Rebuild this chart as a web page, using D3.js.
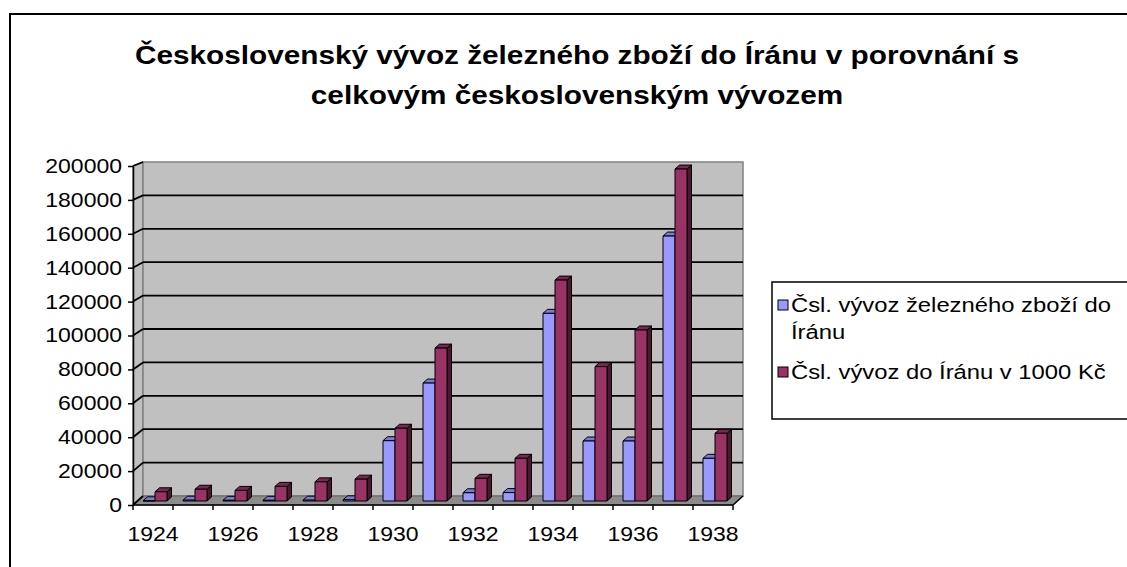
<!DOCTYPE html>
<html>
<head>
<meta charset="utf-8">
<script src="https://cdn.jsdelivr.net/npm/d3@7"></script>
<style>
  body { margin: 0; background: #fff; }
  svg { display: block; }
  text { font-family: "Liberation Sans", Arial, sans-serif; fill: #000; }
</style>
</head>
<body>
<svg id="chart" width="1127" height="567"></svg>
<script>
// data
var years = [1924, 1925, 1926, 1927, 1928, 1929, 1930, 1931, 1932, 1933, 1934, 1935, 1936, 1937, 1938];
var ironExports = [100, 500, 400, 400, 500, 700, 35900, 70200, 4900, 5000, 111700, 35700, 35700, 157700, 25400];
var totalExports = [5500, 7000, 6300, 8700, 11400, 13000, 43300, 91000, 13500, 25400, 131500, 80000, 101800, 197600, 40300];
var yTickValues = [0, 20000, 40000, 60000, 80000, 100000, 120000, 140000, 160000, 180000, 200000];
var yearLabels = [1924, 1926, 1928, 1930, 1932, 1934, 1936, 1938];
var seriesLabels = [["Čsl. vývoz železného zboží do", "Íránu"], ["Čsl. vývoz do Íránu v 1000 Kč"]];
var titleLines = ["Československý vývoz železného zboží do Íránu v porovnání s", "celkovým československým vývozem"];

var frontColors = ["#9999ff", "#993366"];
var topColors = ["#7b7bd6", "#7a2850"];
var sideColors = ["#4f4f8a", "#4a1830"];

var stretch = 1.15; // the original text is a bit wide
var titleStretch = 1.19;
var legendStretch = 1.19;

var svg = d3.select("#chart");

// scales: front edge of floor, back wall, and bars which stand in the middle
var x = d3.scaleBand().domain(years).range([133, 733]);
var xSeries = d3.scaleBand().domain([0, 1]).range([10, 34]);
var yFront = d3.scaleLinear().domain([0, 200000]).range([505, 166]);
var yBack = d3.scaleLinear().domain([0, 200000]).range([496, 162]);
var yBar = d3.scaleLinear().domain([0, 200000]).range([501, 165]);
var wallDx = 10;
var barDx = 4.5, barDy = -4;

// outer frame
svg.append("rect").attr("x", 10).attr("y", 14).attr("width", 1300).attr("height", 700)
  .attr("fill", "none").attr("stroke", "#000").attr("stroke-width", 2);

// title
svg.append("g").selectAll("text").data(titleLines).join("text")
  .attr("transform", (d, i) => "translate(577," + (64 + i * 40) + ") scale(" + titleStretch + ",1)")
  .attr("text-anchor", "middle")
  .style("font-size", "25px").style("font-weight", "bold")
  .text(d => d);

// walls and floor
var wallTop = yBack(200000), wallBottom = yBack(0);
svg.append("polygon")
  .attr("points", [[133, yFront(0)], [133 + wallDx, wallBottom], [133 + wallDx, wallTop], [133, yFront(200000)]].join(" "))
  .attr("fill", "#c0c0c0").attr("stroke", "#808080").attr("stroke-width", 1.5);
svg.append("rect")
  .attr("x", 133 + wallDx).attr("y", wallTop).attr("width", 600).attr("height", wallBottom - wallTop)
  .attr("fill", "#c0c0c0").attr("stroke", "#808080").attr("stroke-width", 1.5);
svg.append("polygon")
  .attr("points", [[133, yFront(0)], [733, yFront(0)], [733 + wallDx, wallBottom], [133 + wallDx, wallBottom]].join(" "))
  .attr("fill", "#8c8c8c").attr("stroke", "#666").attr("stroke-width", 1);

// gridlines on the back wall and the left wall
var grid = svg.append("g").attr("stroke", "#000").attr("stroke-width", 1.8);
grid.selectAll("line.back").data(yTickValues.filter(d => d > 0 && d < 200000)).join("line")
  .attr("class", "back")
  .attr("x1", 133 + wallDx).attr("x2", 733 + wallDx)
  .attr("y1", d => yBack(d)).attr("y2", d => yBack(d));
grid.selectAll("line.side").data(yTickValues).join("line")
  .attr("class", "side")
  .attr("x1", 133).attr("x2", 133 + wallDx)
  .attr("y1", d => yFront(d)).attr("y2", d => yBack(d));

// bars
var barData = [];
years.forEach((yr, i) => {
  barData.push({ year: yr, s: 0, value: ironExports[i] });
  barData.push({ year: yr, s: 1, value: totalExports[i] });
});
var bw = xSeries.bandwidth();
var base = yBar(0);
var bars = svg.append("g").selectAll("g").data(barData).join("g")
  .attr("stroke", "#000").attr("stroke-width", 1).attr("stroke-linejoin", "round");
bars.append("polygon")
  .attr("points", d => {
    var x0 = x(d.year) + xSeries(d.s), t = yBar(d.value);
    return [[x0 + bw, t], [x0 + bw + barDx, t + barDy], [x0 + bw + barDx, base + barDy], [x0 + bw, base]].join(" ");
  })
  .attr("fill", d => sideColors[d.s]);
bars.append("polygon")
  .attr("points", d => {
    var x0 = x(d.year) + xSeries(d.s), t = yBar(d.value);
    return [[x0, t], [x0 + bw, t], [x0 + bw + barDx, t + barDy], [x0 + barDx, t + barDy]].join(" ");
  })
  .attr("fill", d => topColors[d.s]);
bars.append("rect")
  .attr("x", d => x(d.year) + xSeries(d.s))
  .attr("y", d => yBar(d.value))
  .attr("width", bw)
  .attr("height", d => base - yBar(d.value))
  .attr("fill", d => frontColors[d.s]);

// y axis
var yAxis = svg.append("g").attr("transform", "translate(133,0)")
  .call(d3.axisLeft(yFront).tickValues(yTickValues).tickSize(5).tickSizeOuter(0).tickFormat(d3.format("d")));
yAxis.select(".domain").attr("stroke", "#000").attr("stroke-width", 1.5);
yAxis.selectAll(".tick line").attr("stroke", "#000").attr("stroke-width", 1.5);
yAxis.selectAll(".tick text")
  .attr("x", 0)
  .attr("transform", "translate(-11,0) scale(" + stretch + ",1)")
  .style("font-size", "20px").style("font-family", "'Liberation Sans', Arial, sans-serif");

// x axis: line, ticks on category edges, labels every other year
var xAxis = svg.append("g");
var edges = years.map(d => x(d)).concat([x.range()[1]]);
xAxis.append("line")
  .attr("x1", 133).attr("x2", 733).attr("y1", yFront(0)).attr("y2", yFront(0))
  .attr("stroke", "#000").attr("stroke-width", 1.5);
xAxis.append("line")
  .attr("x1", 733).attr("x2", 733 + wallDx).attr("y1", yFront(0)).attr("y2", wallBottom)
  .attr("stroke", "#000").attr("stroke-width", 1.5);
xAxis.selectAll("line.tick").data(edges).join("line")
  .attr("class", "tick")
  .attr("x1", d => d).attr("x2", d => d)
  .attr("y1", yFront(0)).attr("y2", yFront(0) + 5)
  .attr("stroke", "#000").attr("stroke-width", 1.5);
xAxis.selectAll("text").data(yearLabels).join("text")
  .attr("transform", d => "translate(" + (x(d) + x.bandwidth() / 2) + ",541) scale(" + stretch + ",1)")
  .attr("text-anchor", "middle")
  .style("font-size", "20px")
  .text(d => d);

// legend
var legend = svg.append("g");
legend.append("rect").attr("x", 772).attr("y", 282).attr("width", 400).attr("height", 137)
  .attr("fill", "#fff").attr("stroke", "#000").attr("stroke-width", 1.5);
var legendRows = [0, 67];
legend.selectAll("rect.key").data(seriesLabels).join("rect")
  .attr("class", "key")
  .attr("x", 778).attr("y", (d, i) => 300 + legendRows[i])
  .attr("width", 10).attr("height", 10)
  .attr("fill", (d, i) => frontColors[i]).attr("stroke", "#000").attr("stroke-width", 1);
seriesLabels.forEach((lines, i) => {
  legend.selectAll("text.s" + i).data(lines).join("text")
    .attr("class", "s" + i)
    .attr("transform", (d, j) => "translate(791," + (312 + legendRows[i] + j * 27) + ") scale(" + legendStretch + ",1)")
    .style("font-size", "20px")
    .text(d => d);
});
</script>
</body>
</html>
